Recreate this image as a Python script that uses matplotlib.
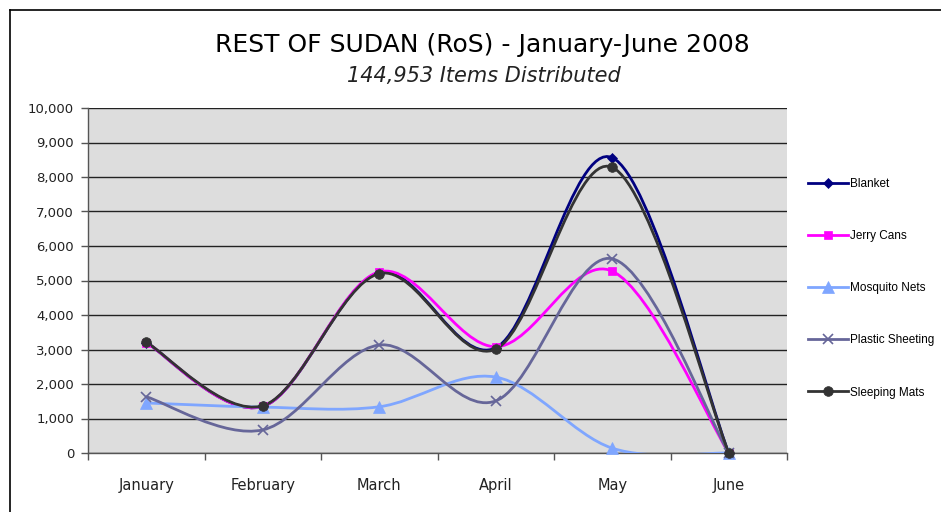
import matplotlib.pyplot as plt
import matplotlib.ticker as mticker
from matplotlib.path import Path
from matplotlib.patches import PathPatch
from matplotlib.lines import Line2D

months = ['January', 'February', 'March', 'April', 'May', 'June']
blanket = [3200, 1350, 5230, 3050, 8560, 0]
jerry_cans = [3200, 1350, 5250, 3080, 5270, 0]
mosquito_nets = [1450, 1330, 1340, 2200, 140, 0]
plastic_sheeting = [1630, 670, 3130, 1510, 5630, 0]
sleeping_mats = [3210, 1370, 5200, 3010, 8280, 0]

series = [
    ('Blanket', blanket, '#000080', 'D', 5),
    ('Jerry Cans', jerry_cans, '#FF00FF', 's', 6),
    ('Mosquito Nets', mosquito_nets, '#7FA6FF', '^', 8),
    ('Plastic Sheeting', plastic_sheeting, '#666699', 'x', 7),
    ('Sleeping Mats', sleeping_mats, '#333333', 'o', 7),
]


def smooth_path(xs, ys):
    # excel style smoothed line: bezier segments through every point
    pts = list(zip(xs, ys))
    n = len(pts)
    verts = [pts[0]]
    codes = [Path.MOVETO]
    for i in range(n - 1):
        p0 = pts[i - 1] if i > 0 else pts[i]
        p1 = pts[i]
        p2 = pts[i + 1]
        p3 = pts[i + 2] if i + 2 < n else pts[i + 1]
        c1 = (p1[0] + (p2[0] - p0[0]) / 6, p1[1] + (p2[1] - p0[1]) / 6)
        c2 = (p2[0] - (p3[0] - p1[0]) / 6, p2[1] - (p3[1] - p1[1]) / 6)
        verts += [c1, c2, p2]
        codes += [Path.CURVE4] * 3
    return Path(verts, codes)


fig = plt.figure(figsize=(9.41, 5.12), dpi=100)
ax = fig.add_axes([88 / 941, 59 / 512, 699 / 941, 345 / 512])
ax.set_facecolor('#DDDDDD')

x = list(range(len(months)))
handles = []
for name, vals, color, marker, ms in series:
    patch = PathPatch(smooth_path(x, vals), facecolor='none', edgecolor=color,
                      lw=2.0, zorder=3, capstyle='round', joinstyle='round')
    ax.add_patch(patch)
    mew = 1.2 if marker == 'x' else 0.5
    ax.plot(x, vals, ls='none', marker=marker, ms=ms, color=color,
            mec=color, mew=mew, zorder=4, clip_on=False)
    handles.append(Line2D([], [], color=color, lw=2.0, marker=marker,
                          ms=ms, mew=mew, label=name))

ax.set_xlim(-0.5, len(months) - 0.5)
ax.set_ylim(0, 10000)
ax.set_yticks(range(0, 10001, 1000))
ax.yaxis.set_major_formatter(mticker.FuncFormatter(lambda v, p: f'{int(v):,}'))
ax.set_xticks(x)
ax.set_xticklabels(months)
ax.set_xticks([i - 0.5 for i in range(len(months) + 1)], minor=True)
ax.tick_params(axis='x', which='major', length=0, pad=18, labelsize=10.5,
               labelcolor='#222222')
ax.tick_params(axis='x', which='minor', length=5, width=1, color='#555555')
ax.tick_params(axis='y', length=5, width=1, color='#555555', labelsize=9.5,
               labelcolor='#222222', pad=5)

ax.grid(axis='y', color='#222222', lw=1)
ax.set_axisbelow(True)
for side in ['top', 'right']:
    ax.spines[side].set_visible(False)
for side in ['left', 'bottom']:
    ax.spines[side].set_color('#555555')
    ax.spines[side].set_linewidth(1)

fig.text(482 / 941, 1 - 45 / 512, 'REST OF SUDAN (RoS) - January-June 2008',
         ha='center', va='center', fontsize=18, fontweight='medium')
fig.text(484 / 941, 1 - 76 / 512, '144,953 Items Distributed',
         ha='center', va='center', fontsize=15, style='italic',
         color='#222222')

fig.legend(handles=handles, loc='upper left',
           bbox_to_anchor=(808 / 941, 1 - 178 / 512), frameon=False,
           borderpad=0, borderaxespad=0, handlelength=3.4, handletextpad=0.15,
           labelspacing=3.4, prop={'family': 'Liberation Sans', 'size': 8.5})

# chart frame, cut off on the right and bottom
fig.add_artist(Line2D([10 / 941, 10 / 941], [0, 1 - 10 / 512], color='black',
                      lw=1.2, transform=fig.transFigure))
fig.add_artist(Line2D([10 / 941, 1], [1 - 10 / 512, 1 - 10 / 512], color='black',
                      lw=1.2, transform=fig.transFigure))

fig.savefig('out.png', dpi=100)
